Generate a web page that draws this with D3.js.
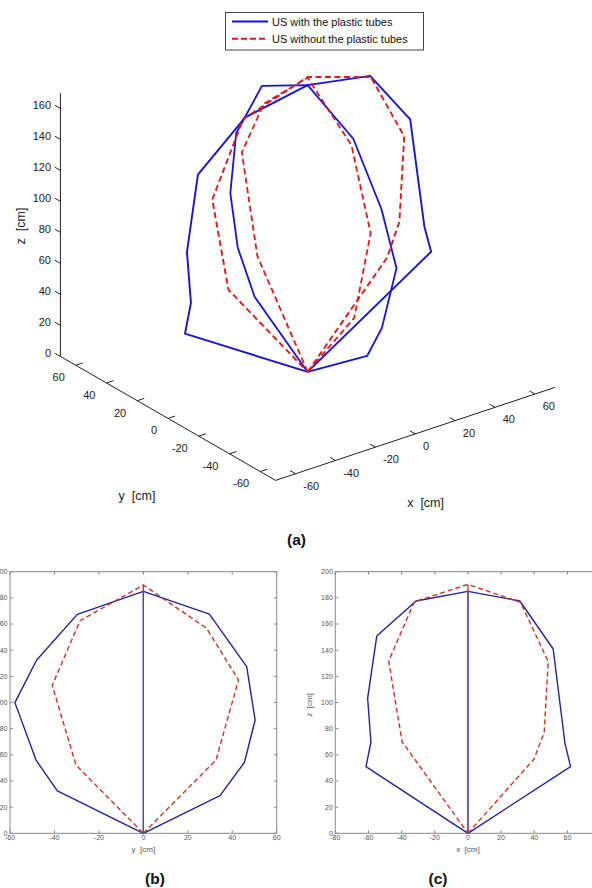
<!DOCTYPE html>
<html><head><meta charset="utf-8">
<script src="https://cdn.jsdelivr.net/npm/d3@7"></script>
<style>html,body{margin:0;padding:0;background:#fff;} svg{display:block;font-family:"Liberation Sans",Arial,sans-serif;}</style>
</head><body><svg id="c" width="592" height="888"></svg>
<script>
// ---------- data (cm) ----------
const seriesNames = ["US with the plastic tubes", "US without the plastic tubes"];
// profile in the x-z plane (y = 0)
const blueXZ_x = [0, 61.9, 58.5, 51.4, 31.3, 0, -31.3, -55.0, -60.5, -58.5, -61.5, 0];
const blueXZ_z = [0, 51.0, 68.8, 140.9, 177.6, 185.0, 177.6, 150.8, 103.2, 69.6, 51.0, 0];
const redXZ_x  = [0, 39.9, 46.0, 48.4, 31.7, 0, -32.3, -47.8, -39.7, 0];
const redXZ_z  = [0, 56.8, 77.2, 131.2, 176.6, 190.3, 177.0, 131.7, 70.0, 0];
// profile in the y-z plane (x = 0)
const blueYZ_y = [0, 34.5, 45.5, 50.3, 46.5, 29.7, 0, -29.7, -48.0, -57.8, -48.3, -38.7, 0];
const blueYZ_z = [0, 28.8, 54.3, 86.6, 127.4, 167.6, 185.0, 167.4, 132.5, 99.9, 56.0, 32.4, 0];
const redYZ_y  = [0, 32.7, 42.8, 28.5, 0, -28.5, -41.0, -30.3, 0];
const redYZ_z  = [0, 56.0, 117.2, 156.7, 189.8, 162.5, 113.0, 52.2, 0];
// ticks
const ticks3D_xy = [-60, -40, -20, 0, 20, 40, 60];
const ticks3D_z  = [0, 20, 40, 60, 80, 100, 120, 140, 160];
const ticksB_y   = [-60, -40, -20, 0, 20, 40, 60];
const ticksC_x   = [-80, -60, -40, -20, 0, 20, 40, 60, 80];
const ticks2D_z  = [0, 20, 40, 60, 80, 100, 120, 140, 160, 180, 200];

const zip2 = (a, b) => a.map((v, i) => [v, b[i]]);
const blueXZ = zip2(blueXZ_x, blueXZ_z), redXZ = zip2(redXZ_x, redXZ_z);
const blueYZ = zip2(blueYZ_y, blueYZ_z), redYZ = zip2(redYZ_y, redYZ_z);

const svg = d3.select("#c");
svg.append("rect").attr("width", 592).attr("height", 888).attr("fill", "#fff");

// ---------- 3D panel (a) ----------
const corner = [275.6, 480.4];  // (x=-70, y=-70, z=0)
const xDx = d3.scaleLinear().domain([-70, 70]).range([0, 279.3]);
const xDy = d3.scaleLinear().domain([-70, 70]).range([0, -93]);
const yDx = d3.scaleLinear().domain([-70, 70]).range([0, -215.2]);
const yDy = d3.scaleLinear().domain([-70, 70]).range([0, -124]);
const zDy = d3.scaleLinear().domain([0, 170]).range([0, -263.5]);
const proj = (x, y, z) => [corner[0] + xDx(x) + yDx(y), corner[1] + xDy(x) + yDy(y) + zDy(z)];

const g3 = svg.append("g");
const axCol = "#222";
const ln = d3.line();
// axes
g3.append("path").attr("d", ln([proj(-70, 70, 0), proj(-70, 70, 170)])).attr("stroke", axCol).attr("fill", "none");
g3.append("path").attr("d", ln([proj(-70, 70, 0), proj(-70, -70, 0), proj(70, -70, 0)])).attr("stroke", axCol).attr("fill", "none");
// ticks
const tl = 3.5;
ticks3D_z.forEach(v => {
  const p = proj(-70, 70, v), q = proj(-70, 70 - tl, v);
  const d = [p[0] - (q[0] - p[0]), p[1] - (q[1] - p[1])];
  g3.append("path").attr("d", ln([p, d])).attr("stroke", axCol);
  g3.append("text").attr("x", p[0] - 9.4).attr("y", p[1] - 3.4).attr("dy", "0.35em")
    .attr("text-anchor", "end").attr("font-size", 11).attr("fill", "#222").text(v);
});
ticks3D_xy.forEach(v => {
  const p = proj(-70, v, 0), q = proj(-70 + tl, v, 0);
  g3.append("path").attr("d", ln([p, q])).attr("stroke", axCol);
  g3.append("text").attr("x", p[0] - 11).attr("y", p[1] + 12).attr("dy", "0.35em")
    .attr("text-anchor", "end").attr("font-size", 11).attr("fill", "#222").text(v);
  const a = proj(v, -70, 0), b = proj(v, -70 + tl, 0);
  g3.append("path").attr("d", ln([a, b])).attr("stroke", axCol);
  g3.append("text").attr("x", a[0] + 7.7).attr("y", a[1] + 12.2).attr("dy", "0.35em")
    .attr("text-anchor", "start").attr("font-size", 11).attr("fill", "#222").text(v);
});
// axis titles
g3.append("text").attr("transform", "translate(20.8,226) rotate(-90)").attr("text-anchor", "middle")
  .attr("dy", "0.35em").attr("font-size", 12.5).attr("fill", "#222").style("white-space", "pre").text("z  [cm]");
g3.append("text").attr("x", 137).attr("y", 496).attr("text-anchor", "middle")
  .attr("dy", "0.35em").attr("font-size", 12.5).attr("fill", "#222").style("white-space", "pre").text("y  [cm]");
g3.append("text").attr("x", 425.6).attr("y", 503).attr("text-anchor", "middle")
  .attr("dy", "0.35em").attr("font-size", 12.5).attr("fill", "#222").style("white-space", "pre").text("x  [cm]");

const blue3 = "#1414dc", red3 = "#e41818";
const draw3 = (pts, col, dash, w) => g3.append("path").attr("d", ln(pts)).attr("fill", "none")
  .attr("stroke", col).attr("stroke-width", w).attr("stroke-dasharray", dash).attr("stroke-linejoin", "round");
draw3(blueXZ.map(([x, z]) => proj(x, 0, z)), blue3, null, 1.9);
draw3(blueYZ.map(([y, z]) => proj(0, y, z)), blue3, null, 1.8);
draw3(redXZ.map(([x, z]) => proj(x, 0, z)), red3, "6,3.5", 1.9);
draw3(redYZ.map(([y, z]) => proj(0, y, z)), red3, "6,3.5", 1.8);

// legend
const lg = svg.append("g");
lg.append("rect").attr("x", 225.5).attr("y", 12.5).attr("width", 198).attr("height", 37.5)
  .attr("fill", "#fff").attr("stroke", "#444").attr("stroke-width", 1);
[[blue3, null, 21.5], [red3, "6,3", 38.7]].forEach(([c, d, y], i) => {
  lg.append("line").attr("x1", 232).attr("x2", 268).attr("y1", y).attr("y2", y)
    .attr("stroke", c).attr("stroke-width", 2).attr("stroke-dasharray", d);
  lg.append("text").attr("x", 272).attr("y", y + 0.8).attr("dy", "0.35em").attr("font-size", 11)
    .attr("fill", "#111").text(seriesNames[i]);
});

// panel labels
[["(a)", 296.5, 545], ["(b)", 155, 883.5], ["(c)", 438, 883.5]].forEach(([t, x, y]) =>
  svg.append("text").attr("x", x).attr("y", y).attr("text-anchor", "middle")
    .attr("font-size", 15.5).attr("font-weight", "bold").attr("fill", "#111").text(t));

// ---------- 2D panels (b), (c) ----------
function panel(hDomain, hRange, hTicks, hLabel, loops, verts, showZLabel) {
  const hs = d3.scaleLinear().domain(hDomain).range(hRange);
  const zs = d3.scaleLinear().domain([0, 200]).range([833.3, 571.7]);
  const g = svg.append("g");
  const boxCol = "#8a8a8a";
  g.append("rect").attr("x", hRange[0]).attr("y", zs(200)).attr("width", hRange[1] - hRange[0])
    .attr("height", zs(0) - zs(200)).attr("fill", "none").attr("stroke", boxCol);
  hTicks.forEach(v => {
    const x = hs(v);
    g.append("line").attr("x1", x).attr("x2", x).attr("y1", zs(0)).attr("y2", zs(0) - 3).attr("stroke", boxCol);
    g.append("line").attr("x1", x).attr("x2", x).attr("y1", zs(200)).attr("y2", zs(200) + 3).attr("stroke", boxCol);
    g.append("text").attr("x", x).attr("y", zs(0) + 4.5).attr("dy", "0.35em").attr("text-anchor", "middle")
      .attr("font-size", 7).attr("fill", "#555").text(v);
  });
  ticks2D_z.forEach(v => {
    const y = zs(v);
    g.append("line").attr("x1", hRange[0]).attr("x2", hRange[0] + 3).attr("y1", y).attr("y2", y).attr("stroke", boxCol);
    g.append("line").attr("x1", hRange[1]).attr("x2", hRange[1] - 3).attr("y1", y).attr("y2", y).attr("stroke", boxCol);
    g.append("text").attr("x", hRange[0] - 2.5).attr("y", y).attr("dy", "0.35em").attr("text-anchor", "end")
      .attr("font-size", 7).attr("fill", "#555").text(v);
  });
  g.append("text").attr("x", hs(0)).attr("y", 849.3).attr("dy", "0.35em").attr("text-anchor", "middle")
    .attr("font-size", 8).attr("fill", "#555").style("white-space", "pre").text(hLabel);
  if (showZLabel) g.append("text").attr("transform", `translate(${hRange[0] - 26},705) rotate(-90)`).attr("dy", "0.35em")
    .attr("text-anchor", "middle").attr("font-size", 8).attr("fill", "#555").style("white-space", "pre").text("z  [cm]");
  const line = d3.line().x(d => hs(d[0])).y(d => zs(d[1]));
  loops.forEach(([pts, col, dash]) => g.append("path").attr("d", line(pts)).attr("fill", "none")
    .attr("stroke", col).attr("stroke-width", 1.4).attr("stroke-dasharray", dash).attr("stroke-linejoin", "round"));
  // the other plane's profile seen edge-on
  verts.forEach(([pts, col, dash]) => g.append("path").attr("d", line(pts.map(([h, z]) => [0, z])))
    .attr("fill", "none").attr("stroke", col).attr("stroke-width", 1.3).attr("stroke-dasharray", dash));
}
const blue2 = "#23239a", red2 = "#cc3326", blueV = "#3a4fc4";
panel([-60, 60], [10, 276.7], ticksB_y, "y  [cm]",
  [[blueYZ, blue2, null], [redYZ, red2, "5,3"]], [[redXZ, red2, "5,3"], [blueXZ, blueV, null]], false);
panel([-80, 80], [335.3, 600.6], ticksC_x, "x  [cm]",
  [[blueXZ, blue2, null], [redXZ, red2, "5,3"]], [[redYZ, red2, "5,3"], [blueYZ, blueV, null]], true);
</script></body></html>
